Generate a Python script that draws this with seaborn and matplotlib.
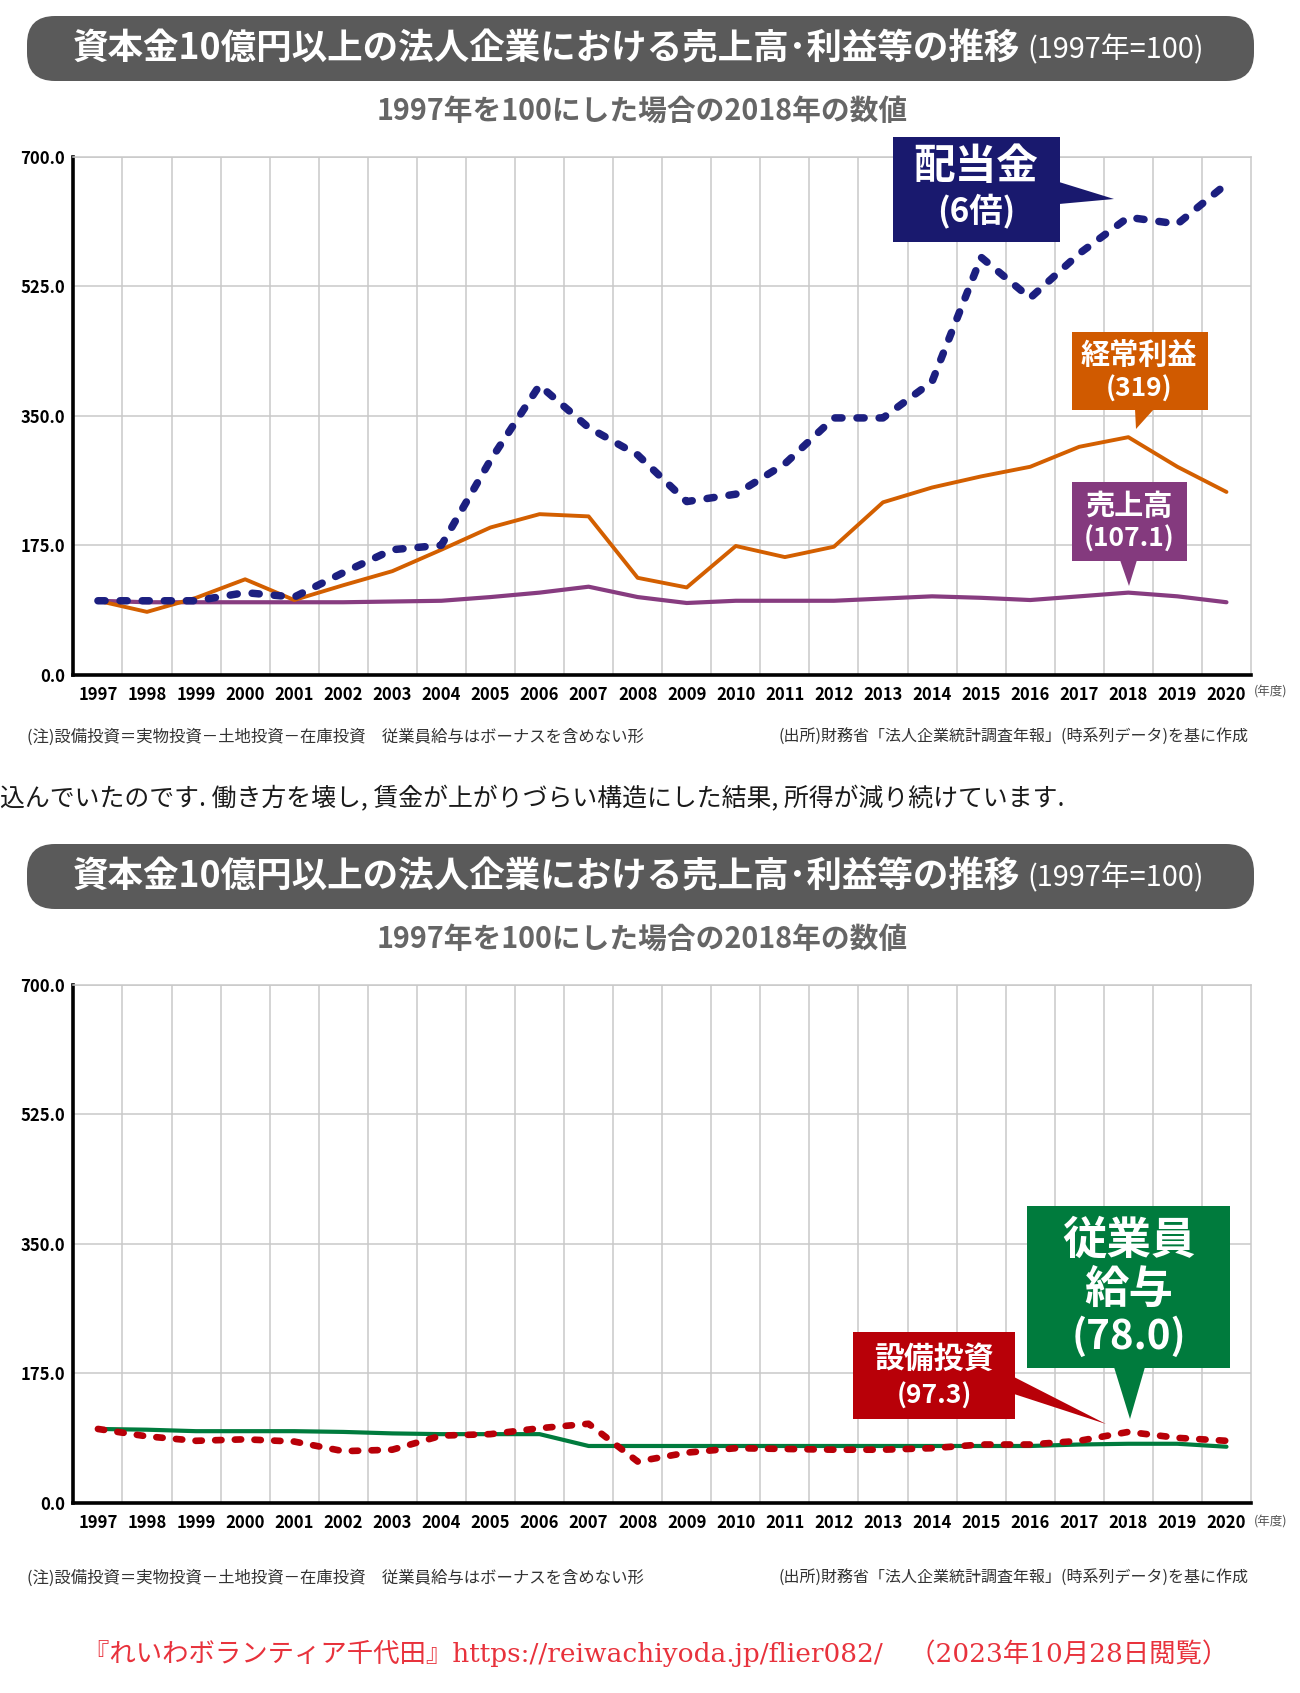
import numpy as np
import pandas as pd
import matplotlib
matplotlib.use('Agg')
import matplotlib.pyplot as plt
import seaborn as sns
from matplotlib.patches import FancyBboxPatch, Polygon, Rectangle
from matplotlib.transforms import Affine2D

# data (1997 = 100)
years = list(range(1997, 2021))
dividends = [100, 100, 100, 111, 105, 138, 169, 175, 290, 391, 334, 297,
             234, 244, 285, 347, 347, 396, 564, 509, 569, 618, 609, 663]
ordinary_profit = [100, 85, 104, 129, 101, 121, 140, 169, 199, 217, 214, 131,
                   118, 174, 159, 173, 233, 253, 268, 281, 308, 321, 281, 247]
sales = [100, 98, 98, 98, 98, 98, 99, 100, 105, 111, 119, 105,
         97, 100, 100, 100, 103, 106, 104, 101, 106, 111, 106, 98]
wages = [100, 99, 97, 97, 97, 96, 94, 93, 93, 93, 77, 77,
         77, 77, 77, 77, 77, 77, 77, 77, 79, 80, 80, 76]
investment = [100, 90, 84, 86, 83, 70, 72, 91, 93, 101, 107, 56,
              68, 74, 73, 72, 72, 74, 79, 79, 84, 96, 88, 84]

y_ticks = [0, 175, 350, 525, 700]
y_tick_labels = ['0.0', '175.0', '350.0', '525.0', '700.0']

title = '資本金10億円以上の法人企業における売上高･利益等の推移'
title_note = '(1997年=100)'
subtitle = '1997年を100にした場合の2018年の数値'
note_left = '(注)設備投資＝実物投資－土地投資－在庫投資　従業員給与はボーナスを含めない形'
note_right = '(出所)財務省「法人企業統計調査年報」(時系列データ)を基に作成'
body_line = '込んでいたのです. 働き方を壊し, 賃金が上がりづらい構造にした結果, 所得が減り続けています.'
footer = '『れいわボランティア千代田』https://reiwachiyoda.jp/flier082/　（2023年10月28日閲覧）'

df_top = pd.DataFrame({'year': years, 'dividends': dividends,
                       'ordinary_profit': ordinary_profit, 'sales': sales})
df_bot = pd.DataFrame({'year': years, 'wages': wages, 'investment': investment})

NAVY = '#1c1f80'
ORANGE = '#d35f00'
PURPLE = '#873c80'
GREEN = '#007b3d'
RED = '#b80008'
GRID = '#c9c9c9'

sns.set_style('white')
plt.rcParams['font.family'] = ['Noto Sans CJK JP', 'DejaVu Sans']
TICK_FONT = ['Liberation Sans Narrow', 'Noto Sans CJK JP']

W, H = 1300, 1693
fig = plt.figure(figsize=(W / 100, H / 100), dpi=100)
# pixel coordinates measured from the top-left corner
T = Affine2D().scale(1 / 100, -1 / 100).translate(0, H / 100) + fig.dpi_scale_trans


def axes_rect(top, bottom, left=73.4, right=1251):
    return [left / W, 1 - bottom / H, (right - left) / W, (bottom - top) / H]


def style_axes(ax, label_y):
    ax.set_xlim(1996.5, 2020.5)
    ax.set_ylim(0, 700)
    ax.set_yticks(y_ticks)
    ax.set_yticklabels(y_tick_labels)
    ax.set_xticks(years)
    ax.set_xticklabels([str(y) for y in years])
    ax.set_xticks(np.arange(1997.5, 2020.5, 1), minor=True)
    ax.set_axisbelow(True)
    ax.grid(False)
    ax.grid(True, which='minor', axis='x', color=GRID, lw=1.1)
    ax.grid(True, which='major', axis='y', color=GRID, lw=1.1)
    ax.tick_params(which='both', length=0)
    ax.tick_params(axis='y', pad=6)
    ax.tick_params(axis='x', pad=8)
    for lab in ax.get_xticklabels() + ax.get_yticklabels():
        lab.set_fontfamily(TICK_FONT)
        lab.set_fontweight('bold')
        lab.set_fontsize(12)
        lab.set_color('black')
    for s in ['left', 'bottom']:
        ax.spines[s].set_color('black')
        ax.spines[s].set_linewidth(2.6)
    for s in ['top', 'right']:
        ax.spines[s].set_color(GRID)
        ax.spines[s].set_linewidth(1.1)
    ax.set_xlabel('')
    ax.set_ylabel('')
    fig.text(1271, label_y, '(年度)', transform=T, fontsize=9, color='#555555',
             ha='center', va='center')


def banner(y_top, sub_y):
    fig.add_artist(FancyBboxPatch((27, y_top), 1227, 65, transform=T,
                                  boxstyle='round,pad=0,rounding_size=28',
                                  fc='#5a5a5a', ec='none'))
    fig.text(73, y_top + 33, title, transform=T, color='white', fontsize=25.6,
             fontweight='bold', ha='left', va='center')
    fig.text(1027, y_top + 34, title_note, transform=T, color='white', fontsize=20.8,
             ha='left', va='center')
    fig.text(642, sub_y, subtitle, transform=T, color='#666666', fontsize=20.7,
             fontweight='bold', ha='center', va='center')


def notes(y):
    fig.text(27, y, note_left, transform=T, fontsize=11.8, color='#333333',
             ha='left', va='center')
    fig.text(1249, y, note_right, transform=T, fontsize=11.5, color='#333333',
             ha='right', va='center')


def callout(rect, tri, color, texts):
    x0, y0, x1, y1 = rect
    fig.add_artist(Rectangle((x0, y0), x1 - x0, y1 - y0, transform=T,
                             fc=color, ec='none'))
    fig.add_artist(Polygon(tri, closed=True, transform=T, fc=color, ec='none'))
    for (cx, cy, s, fs) in texts:
        fig.text(cx, cy, s, transform=T, color='white', fontsize=fs,
                 fontweight='bold', ha='center', va='center')


# ---- top chart
banner(16, 111)
ax1 = fig.add_axes(axes_rect(156.6, 674.8))
sns.lineplot(data=df_top, x='year', y='sales', ax=ax1, color=PURPLE, lw=3.0,
             errorbar=None)
sns.lineplot(data=df_top, x='year', y='ordinary_profit', ax=ax1, color=ORANGE,
             lw=2.8, errorbar=None)
sns.lineplot(data=df_top, x='year', y='dividends', ax=ax1, color=NAVY, lw=5.4,
             linestyle=(0, (0.95, 2.0)), dash_capstyle='round', errorbar=None)
style_axes(ax1, 692)
notes(737)

callout((893, 137, 1060, 242), [(1059, 182), (1114, 199), (1059, 204)], '#19196e',
        [(976, 167, '配当金', 30), (976, 212, '(6倍)', 24)])
callout((1072, 332, 1208, 410), [(1135, 409), (1154, 409), (1136, 429)], '#d05a00',
        [(1139, 355, '経常利益', 21), (1139, 389, '(319)', 19)])
callout((1072, 482, 1187, 561), [(1120, 560), (1137, 560), (1129, 586)], '#843a7e',
        [(1129, 506, '売上高', 21), (1129, 539, '(107.1)', 19)])

# body text between the two charts
fig.text(0, 799, body_line, transform=T, fontsize=17.9, color='#1a1a1a',
         ha='left', va='center')

# ---- bottom chart
banner(844, 939)
ax2 = fig.add_axes(axes_rect(984.7, 1503))
sns.lineplot(data=df_bot, x='year', y='wages', ax=ax2, color=GREEN, lw=3.0,
             errorbar=None)
sns.lineplot(data=df_bot, x='year', y='investment', ax=ax2, color=RED, lw=4.8,
             linestyle=(0, (0.95, 2.0)), dash_capstyle='round', errorbar=None)
style_axes(ax2, 1522)
notes(1578)

callout((853, 1332, 1015, 1419), [(1014, 1377), (1106, 1424), (1014, 1394)], RED,
        [(934, 1359, '設備投資', 21.5), (934, 1396, '(97.3)', 19)])
callout((1027, 1206, 1230, 1368), [(1114, 1367), (1145, 1367), (1130, 1419)], GREEN,
        [(1129, 1241, '従業員', 32), (1129, 1290, '給与', 32), (1129, 1337, '(78.0)', 29)])

fig.text(656, 1653, footer, transform=T, fontsize=19, color='#e8323c',
         family=['DejaVu Serif', 'Noto Sans CJK JP'], ha='center', va='center')

fig.savefig('out.png', dpi=100)
